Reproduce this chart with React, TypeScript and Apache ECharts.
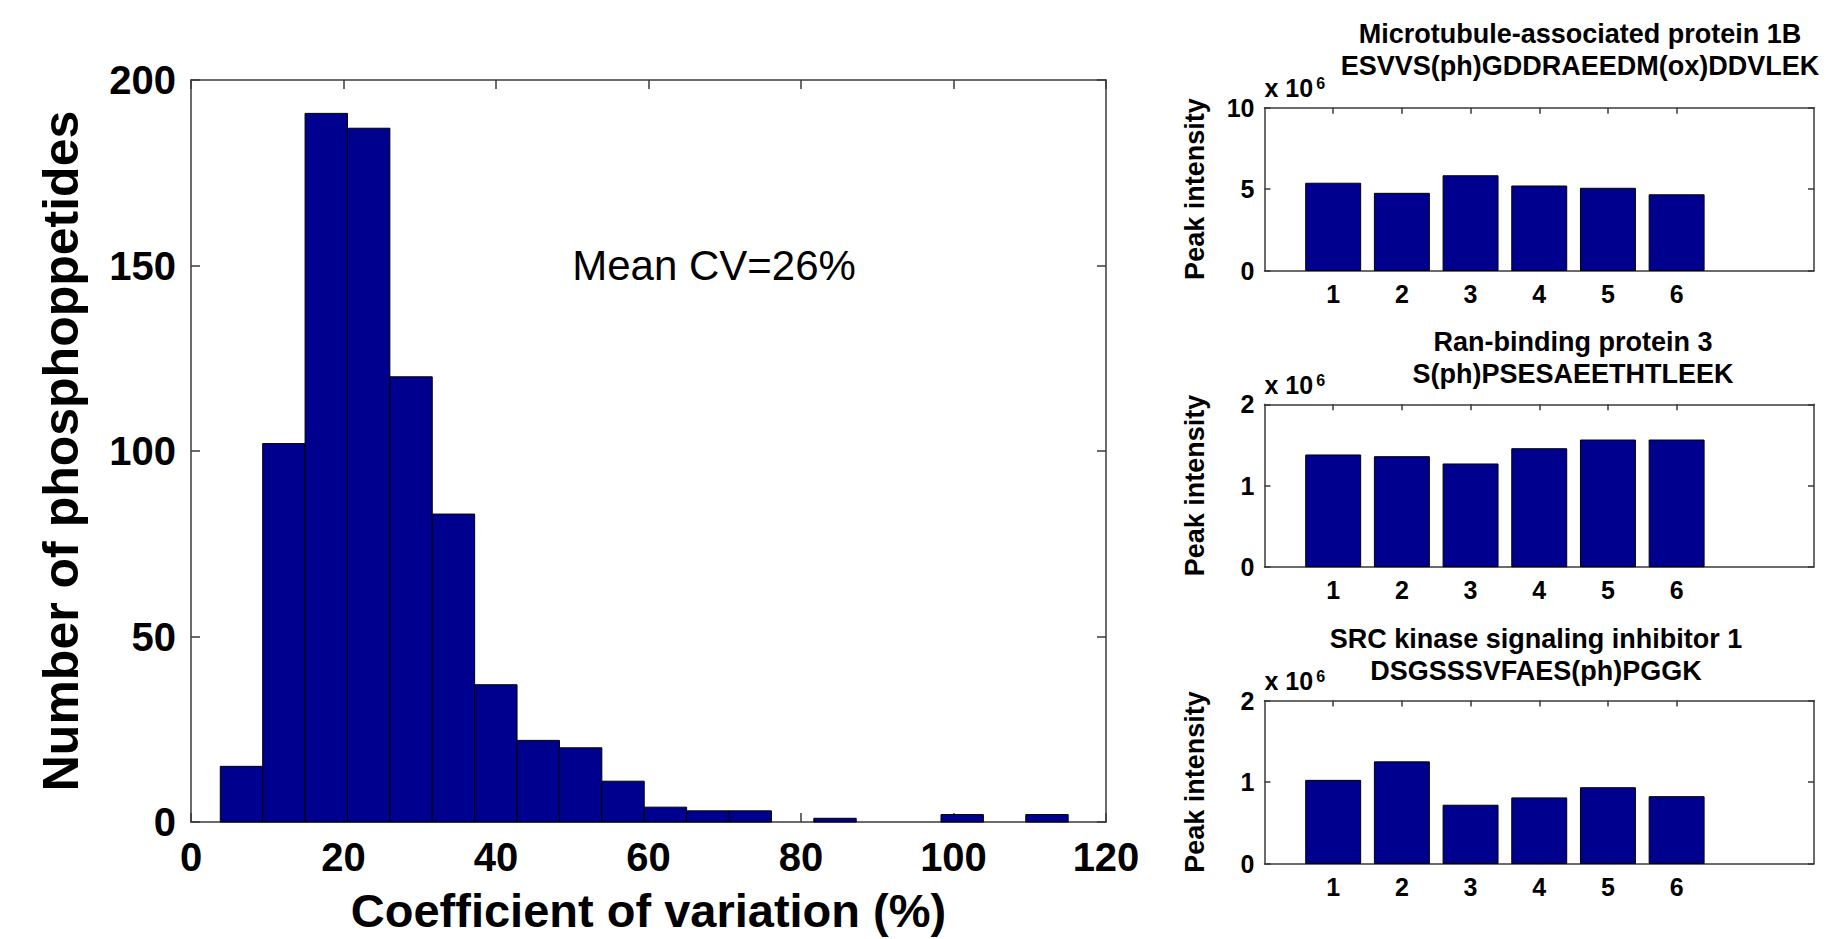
import React, { useEffect, useRef } from 'react';
import * as echarts from 'echarts';

// ---------- Data ----------
// Histogram of coefficient of variation (%)
const binCenters = [6.62, 12.18, 17.74, 23.3, 28.86, 34.42, 39.98, 45.54, 51.1, 56.66, 62.22, 67.78, 73.34, 78.9, 84.46, 90.02, 95.58, 101.14, 106.7, 112.26];
const binCounts = [15, 102, 191, 187, 120, 83, 37, 22, 20, 11, 4, 3, 3, 0, 1, 0, 0, 2, 0, 2];
const binWidth = 5.56;
const meanCvText = 'Mean CV=26%';
const meanCvAnchor = [50, 150];

// Peak intensities (x 10^6) for six samples
const samples = [1, 2, 3, 4, 5, 6];
const map1bIntensity = [5.36, 4.74, 5.82, 5.19, 5.05, 4.65];
const ranbp3Intensity = [1.376, 1.355, 1.265, 1.453, 1.56, 1.56];
const srcinIntensity = [1.02, 1.247, 0.715, 0.805, 0.93, 0.82];
const panelTitles = [
  'Microtubule-associated protein 1B\nESVVS(ph)GDDRAEEDM(ox)DDVLEK',
  'Ran-binding protein 3\nS(ph)PSESAEETHTLEEK',
  'SRC kinase signaling inhibitor 1\nDSGSSSVFAES(ph)PGGK',
];
const panelYMax = [10, 2, 2];
const panelYInterval = [5, 1, 1];

// ---------- Styles ----------
const FONT = '"Liberation Sans", Arial, Helvetica, sans-serif';
const AXIS_COLOR = '#3a3a3a';
const BAR_COLOR = '#00008f';
const axisLineStyle = { color: AXIS_COLOR, width: 1.5 };

function boxAxes(
  gridIndex: number,
  min: number,
  max: number,
  interval: number,
  tickLen: number,
  labelStyle: any,
  customTicks?: number[]
) {
  const tick: any = { show: true, inside: true, length: tickLen, lineStyle: axisLineStyle };
  const label: any = { show: true, ...labelStyle };
  if (customTicks) {
    tick.customValues = customTicks;
    label.customValues = customTicks;
  }
  const common = {
    type: 'value',
    gridIndex,
    min,
    max,
    interval,
    axisLine: { show: true, onZero: false, lineStyle: axisLineStyle },
    splitLine: { show: false },
  };
  return { common, tick, label };
}

function xAxes(gridIndex: number, min: number, max: number, interval: number, tickLen: number, labelStyle: any, extraMain: any, customTicks?: number[]) {
  const b = boxAxes(gridIndex, min, max, interval, tickLen, labelStyle, customTicks);
  return [
    { ...b.common, position: 'bottom', axisTick: b.tick, axisLabel: b.label, ...extraMain },
    { ...b.common, position: 'top', axisTick: { ...b.tick }, axisLabel: { show: false } },
  ];
}

function yAxes(gridIndex: number, min: number, max: number, interval: number, tickLen: number, labelStyle: any, extraMain: any) {
  const b = boxAxes(gridIndex, min, max, interval, tickLen, labelStyle);
  return [
    { ...b.common, position: 'left', axisTick: b.tick, axisLabel: b.label, ...extraMain },
    { ...b.common, position: 'right', axisTick: { ...b.tick }, axisLabel: { show: false } },
  ];
}

function buildOption() {
  const grids = [
    { left: 191, top: 80, width: 915, height: 743 },
    { left: 1264.5, top: 107.7, width: 549.5, height: 162.8 },
    { left: 1264.5, top: 404.3, width: 549.5, height: 162.4 },
    { left: 1264.5, top: 700.5, width: 549.5, height: 163 },
  ];

  const mainTickLabel = { fontFamily: FONT, fontSize: 40, fontWeight: 'bold', color: '#000', margin: 15 };
  const subTickLabel = { fontFamily: FONT, fontSize: 25, fontWeight: 'bold', color: '#000' };

  const xAxis: any[] = [
    ...xAxes(0, 0, 120, 20, 9, mainTickLabel, {
      name: 'Coefficient of variation (%)',
      nameLocation: 'middle',
      nameGap: 65,
      nameTextStyle: { fontFamily: FONT, fontSize: 47, fontWeight: 'bold', color: '#000' },
    }),
  ];
  const yAxis: any[] = [
    ...yAxes(0, 0, 200, 50, 9, mainTickLabel, {
      name: 'Number of phosphoppetides',
      nameLocation: 'middle',
      nameGap: 105,
      nameTextStyle: { fontFamily: FONT, fontSize: 50, fontWeight: 'bold', color: '#000' },
    }),
  ];

  for (let p = 0; p < 3; p++) {
    const g = p + 1;
    xAxis.push(...xAxes(g, 0, 8, 1, 6, { ...subTickLabel, margin: 11 }, {}, samples));
    yAxis.push(
      ...yAxes(g, 0, panelYMax[p], panelYInterval[p], 6, { ...subTickLabel, margin: 10 }, {
        name: '{a|x 10}{b|6}',
        nameLocation: 'end',
        nameGap: 7,
        nameTextStyle: {
          align: 'left',
          verticalAlign: 'bottom',
          fontFamily: FONT,
          color: '#000',
          rich: {
            a: { fontFamily: FONT, fontSize: 25, fontWeight: 'bold', lineHeight: 25, color: '#000', verticalAlign: 'bottom' },
            b: { fontFamily: FONT, fontSize: 16, fontWeight: 'bold', lineHeight: 16, color: '#000', verticalAlign: 'top', padding: [0, 0, 22, 3] },
          },
        },
      })
    );
  }

  // hidden extra left axes carrying the "Peak intensity" ylabel of each panel
  for (let p = 0; p < 3; p++) {
    yAxis.push({
      type: 'value',
      gridIndex: p + 1,
      position: 'left',
      min: 0,
      max: panelYMax[p],
      interval: panelYInterval[p],
      axisLine: { show: false, onZero: false },
      axisTick: { show: false },
      axisLabel: { show: false },
      splitLine: { show: false },
      name: 'Peak intensity',
      nameLocation: 'middle',
      nameGap: 56,
      nameTextStyle: { fontFamily: FONT, fontSize: 27, fontWeight: 'bold', color: '#000' },
    });
  }

  const histRender = (params: any, api: any) => {
    const c = api.value(0);
    const v = api.value(1);
    if (!v) return { type: 'group', children: [] };
    const p0 = api.coord([c - binWidth / 2, 0]);
    const p1 = api.coord([c + binWidth / 2, v]);
    return {
      type: 'rect',
      shape: { x: p0[0], y: p1[1], width: p1[0] - p0[0], height: p0[1] - p1[1] },
      style: { fill: BAR_COLOR, stroke: '#000', lineWidth: 1 },
    };
  };

  const barRender = (params: any, api: any) => {
    const c = api.value(0);
    const v = api.value(1);
    const p0 = api.coord([c - 0.4, 0]);
    const p1 = api.coord([c + 0.4, v]);
    return {
      type: 'rect',
      shape: { x: p0[0], y: p1[1], width: p1[0] - p0[0], height: p0[1] - p1[1] },
      style: { fill: BAR_COLOR, stroke: '#000', lineWidth: 1 },
    };
  };

  const panelData = [map1bIntensity, ranbp3Intensity, srcinIntensity];

  const series: any[] = [
    {
      type: 'custom',
      xAxisIndex: 0,
      yAxisIndex: 0,
      renderItem: histRender,
      data: binCenters.map((c, i) => [c, binCounts[i]]),
    },
    {
      type: 'scatter',
      xAxisIndex: 0,
      yAxisIndex: 0,
      symbolSize: 0,
      itemStyle: { opacity: 1 },
      data: [meanCvAnchor],
      label: {
        show: true,
        position: 'right',
        distance: 0,
        formatter: meanCvText,
        fontFamily: FONT,
        fontSize: 42,
        color: '#000',
        opacity: 1,
      },
    },
  ];
  panelData.forEach((vals, p) => {
    series.push({
      type: 'custom',
      xAxisIndex: 2 + p * 2,
      yAxisIndex: 2 + p * 2,
      renderItem: barRender,
      data: samples.map((s, i) => [s, vals[i]]),
    });
  });

  const titleCenters = [1580, 1573, 1536];
  const titleTops = [17.5, 326, 623];
  const title = panelTitles.map((t, i) => ({
    text: t,
    left: titleCenters[i],
    top: titleTops[i],
    textAlign: 'center',
    padding: 0,
    textStyle: { fontFamily: FONT, fontSize: 27, fontWeight: 'bold', color: '#000', lineHeight: 32 },
  }));

  return {
    animation: false,
    backgroundColor: '#fff',
    title,
    grid: grids,
    xAxis,
    yAxis,
    series,
  };
}

export default function App() {
  const ref = useRef<HTMLDivElement>(null);
  useEffect(() => {
    if (!ref.current) return;
    const chart = echarts.init(ref.current, undefined, { renderer: 'svg' });
    chart.setOption(buildOption() as any);
    return () => chart.dispose();
  }, []);
  return (
    <div
      ref={ref}
      style={{ position: 'fixed', left: 0, top: 0, width: 1832, height: 939, background: '#fff' }}
    />
  );
}
